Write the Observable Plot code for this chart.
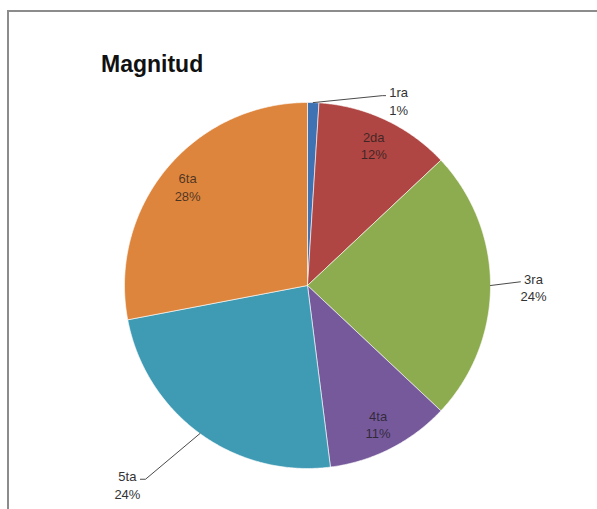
<!DOCTYPE html>
<html>
<head>
<meta charset="utf-8">
<script src="https://cdn.jsdelivr.net/npm/d3@7"></script>
<script src="https://cdn.jsdelivr.net/npm/@observablehq/plot@0.6"></script>
<style>
  html, body { margin: 0; padding: 0; background: #fff; }
  #wrap { position: relative; width: 597px; height: 509px; overflow: hidden; background: #fff; }
  #frame { position: absolute; left: 7px; top: 10px; width: 600px; height: 510px;
           border-left: 2px solid #8c8c8c; border-top: 2px solid #8c8c8c; box-sizing: border-box; }
  #title { position: absolute; left: 101px; top: 53px; font: bold 23px "Liberation Sans", Arial, sans-serif;
           line-height: 23px; color: #111; }
  #chart { position: absolute; left: 0; top: 0; }
  #chart svg { overflow: visible; }
</style>
</head>
<body>
<div id="wrap">
  <div id="frame"></div>
  <div id="chart"></div>
  <div id="title">Magnitud</div>
</div>
<script>
// ---- data ----
const categories = ["1ra", "2da", "3ra", "4ta", "5ta", "6ta"];
const percents = [1, 12, 24, 11, 24, 28];

// ---- styles ----
const palette = ["#3F72B3", "#AF4643", "#8DAB4F", "#76599A", "#3F9AB4", "#DE853D"];
const insideLabels = ["2da", "4ta", "6ta"];
// outer label leader layout: elbow angle (deg, clockwise from top), elbow radius, horizontal tick (in radii)
const outerLayout = {
  "1ra": {angle: 21.5, r: 1.115, tick: 0.018, side: 1},
  "3ra": {angle: 89.0, r: 1.164, tick: 0.0, side: 1},
  "5ta": {angle: 219.9, r: 1.38, tick: -0.028, side: -1}
};

// ---- geometry from data ----
const total = d3.sum(percents);
let acc = 0;
const slices = categories.map((name, i) => {
  const a0 = acc / total * 360;
  acc += percents[i];
  const a1 = acc / total * 360;
  return {name, pct: percents[i], a0, a1, mid: (a0 + a1) / 2};
});
const rad = a => a * Math.PI / 180;
const pt = (a, r) => [r * Math.sin(rad(a)), r * Math.cos(rad(a))];

const slicePts = [];
for (const s of slices) {
  slicePts.push({name: s.name, x: 0, y: 0});
  const n = Math.max(2, Math.ceil((s.a1 - s.a0) / 0.5));
  for (let k = 0; k <= n; k++) {
    const a = s.a0 + (s.a1 - s.a0) * k / n;
    const [x, y] = pt(a, 1);
    slicePts.push({name: s.name, x, y});
  }
  slicePts.push({name: s.name, x: 0, y: 0});
}

const inner = slices.filter(s => insideLabels.includes(s.name)).map(s => {
  const [x, y] = pt(s.mid, 0.85);
  return {...s, x, y};
});

const leaderPts = [];
const outer = [];
for (const s of slices) {
  const L = outerLayout[s.name];
  if (!L) continue;
  const [x0, y0] = pt(s.mid, 1);
  const [x1, y1] = pt(L.angle, L.r);
  const x2 = x1 + L.tick, y2 = y1;
  leaderPts.push({name: s.name, x: x0, y: y0}, {name: s.name, x: x1, y: y1}, {name: s.name, x: x2, y: y2});
  outer.push({...s, x: x2 + L.side * 0.071, y: y2 - 0.027});
}

const font = "'Liberation Sans', Arial, sans-serif";
const chart = Plot.plot({
  width: 597,
  height: 509,
  margin: 0,
  x: {domain: [-1, 1], range: [124, 490], axis: null},
  y: {domain: [-1, 1], range: [468, 102], axis: null},
  color: {domain: categories, range: palette},
  marks: [
    Plot.line(slicePts, {x: "x", y: "y", z: "name", fill: "name", stroke: "#ffffff", strokeWidth: 1, strokeOpacity: 0.6, strokeLinejoin: "round"}),
    Plot.line(leaderPts, {x: "x", y: "y", z: "name", stroke: "#4a4a4a", strokeWidth: 1}),
    Plot.text(inner, {x: "x", y: "y", text: d => `${d.name}\n${d.pct}%`, fill: "#1a1a1a", fillOpacity: 0.75,
      fontSize: 13, lineHeight: 1.35, textAnchor: "middle", lineAnchor: "middle", fontFamily: font}),
    Plot.text(outer, {x: "x", y: "y", text: d => `${d.name}\n${d.pct}%`, fill: "#333",
      fontSize: 13, lineHeight: 1.35, textAnchor: "middle", lineAnchor: "middle", fontFamily: font})
  ]
});
document.getElementById("chart").appendChild(chart);
</script>
</body>
</html>
